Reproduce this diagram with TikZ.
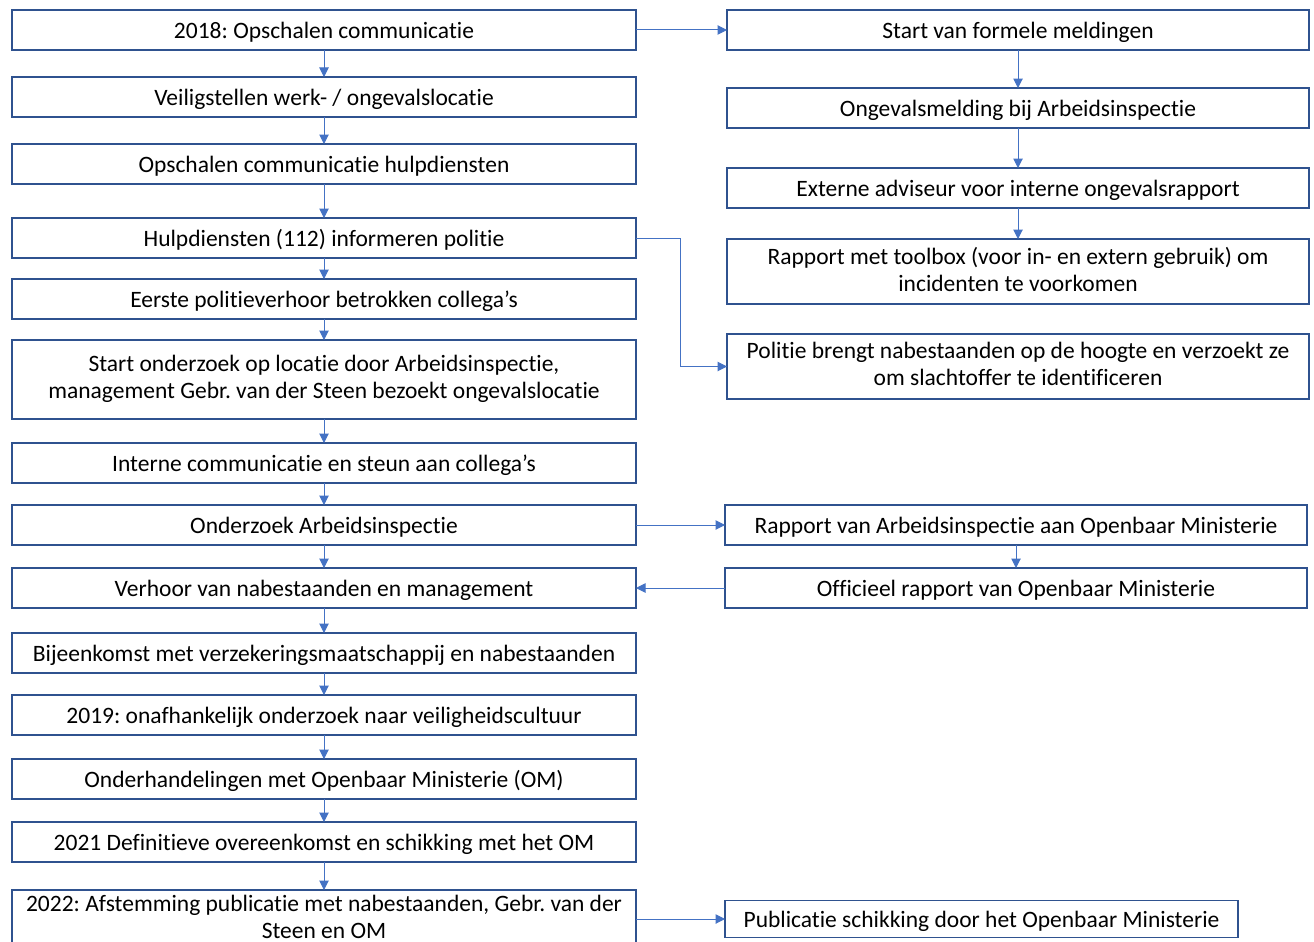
\documentclass[tikz,border=0pt]{standalone}
\usepackage{fontspec}
\setmainfont{Carlito}[Ligatures=NoCommon]
\usepackage{tikz}
\usetikzlibrary{arrows.meta,positioning}
\definecolor{boxblue}{RGB}{47,82,143}
\definecolor{linkblue}{RGB}{68,114,196}
\frenchspacing
\newcommand{\linestrut}{\rule[-5pt]{0pt}{27pt}}
\tikzset{
  flow/.style={-{Triangle[length=9.5pt,width=9.5pt]}, line width=1pt, draw=linkblue},
  box/.style={
    draw=boxblue,
    line width=1.6pt,
    fill=white,
    align=center,
    inner sep=0pt,
    outer sep=0pt,
    minimum width=624pt,
    minimum height=40pt,
    font=\fontsize{23.5}{27}\selectfont,
    execute at begin node=\linestrut,
    execute at end node=\linestrut
  },
  sidebox/.style={box, minimum width=582pt}
}

\begin{document}
\begin{tikzpicture}[node distance=24pt]
  \useasboundingbox (0,0) rectangle (1314pt,-942pt);
  \node[box] (opschalen) at (324pt,-30pt) {2018: Opschalen communicatie};
  \node[box,below=27pt of opschalen] (veilig) {Veiligstellen werk- / ongevalslocatie};
  \node[box,below=27pt of veilig] (hulpdiensten) {Opschalen communicatie hulpdiensten};
  \node[box,below=34pt of hulpdiensten] (politie) {Hulpdiensten (112) informeren politie};
  \node[box,below=21pt of politie] (verhoor) {Eerste politieverhoor betrokken collega’s};
  \node[box,below=21pt of verhoor,minimum height=79pt] (locatie) {Start onderzoek op locatie door Arbeidsinspectie,\\management Gebr. van der Steen bezoekt ongevalslocatie};
  \node[box,below=of locatie] (intern) {Interne communicatie en steun aan collega’s};
  \node[box,below=22pt of intern] (onderzoek) {Onderzoek Arbeidsinspectie};
  \node[box,below=23pt of onderzoek] (nabestaanden) {Verhoor van nabestaanden en management};
  \node[box,below=25pt of nabestaanden] (verzekering) {Bijeenkomst met verzekeringsmaatschappij en nabestaanden};
  \node[box,below=22pt of verzekering] (cultuur) {2019: onafhankelijk onderzoek naar veiligheidscultuur};
  \node[box,below=of cultuur] (onderhandeling) {Onderhandelingen met Openbaar Ministerie (OM)};
  \node[box,below=23pt of onderhandeling] (overeenkomst) {2021 Definitieve overeenkomst en schikking met het OM};
  \node[box,below=28pt of overeenkomst,minimum height=58pt] (afstemming) {2022: Afstemming publicatie met nabestaanden, Gebr. van der\\Steen en OM};

  \node[sidebox,right=91pt of opschalen] (melding) {Start van formele meldingen};
  \node[sidebox,below=38pt of melding] (inspectie) {Ongevalsmelding bij Arbeidsinspectie};
  \node[sidebox,below=40pt of inspectie] (adviseur) {Externe adviseur voor interne ongevalsrapport};
  \node[sidebox,below=31pt of adviseur,minimum height=65pt] (toolbox) {Rapport met toolbox (voor in- en extern gebruik) om\\incidenten te voorkomen};
  \node[sidebox,below=30pt of toolbox,minimum height=65pt] (identificatie) {Politie brengt nabestaanden op de hoogte en verzoekt ze\\om slachtoffer te identificeren};
  \node[sidebox,right=89pt of onderzoek] (rapport) {Rapport van Arbeidsinspectie aan Openbaar Ministerie};
  \node[sidebox,below=23pt of rapport] (officieel) {Officieel rapport van Openbaar Ministerie};
  \node[sidebox,right=89pt of afstemming,minimum width=513pt,minimum height=37pt] (publicatie) {Publicatie schikking door het Openbaar Ministerie};

  \foreach \a/\b in {opschalen/veilig,veilig/hulpdiensten,hulpdiensten/politie,politie/verhoor,
    verhoor/locatie,locatie/intern,intern/onderzoek,onderzoek/nabestaanden,nabestaanden/verzekering,
    verzekering/cultuur,cultuur/onderhandeling,onderhandeling/overeenkomst,overeenkomst/afstemming,
    melding/inspectie,inspectie/adviseur,adviseur/toolbox,rapport/officieel,
    opschalen/melding,onderzoek/rapport,officieel/nabestaanden,afstemming/publicatie}
    \draw[flow] (\a) -- (\b);
  \draw[flow] (politie.east) -- ++(44pt,0) |- (identificatie.west);
\end{tikzpicture}
\end{document}
